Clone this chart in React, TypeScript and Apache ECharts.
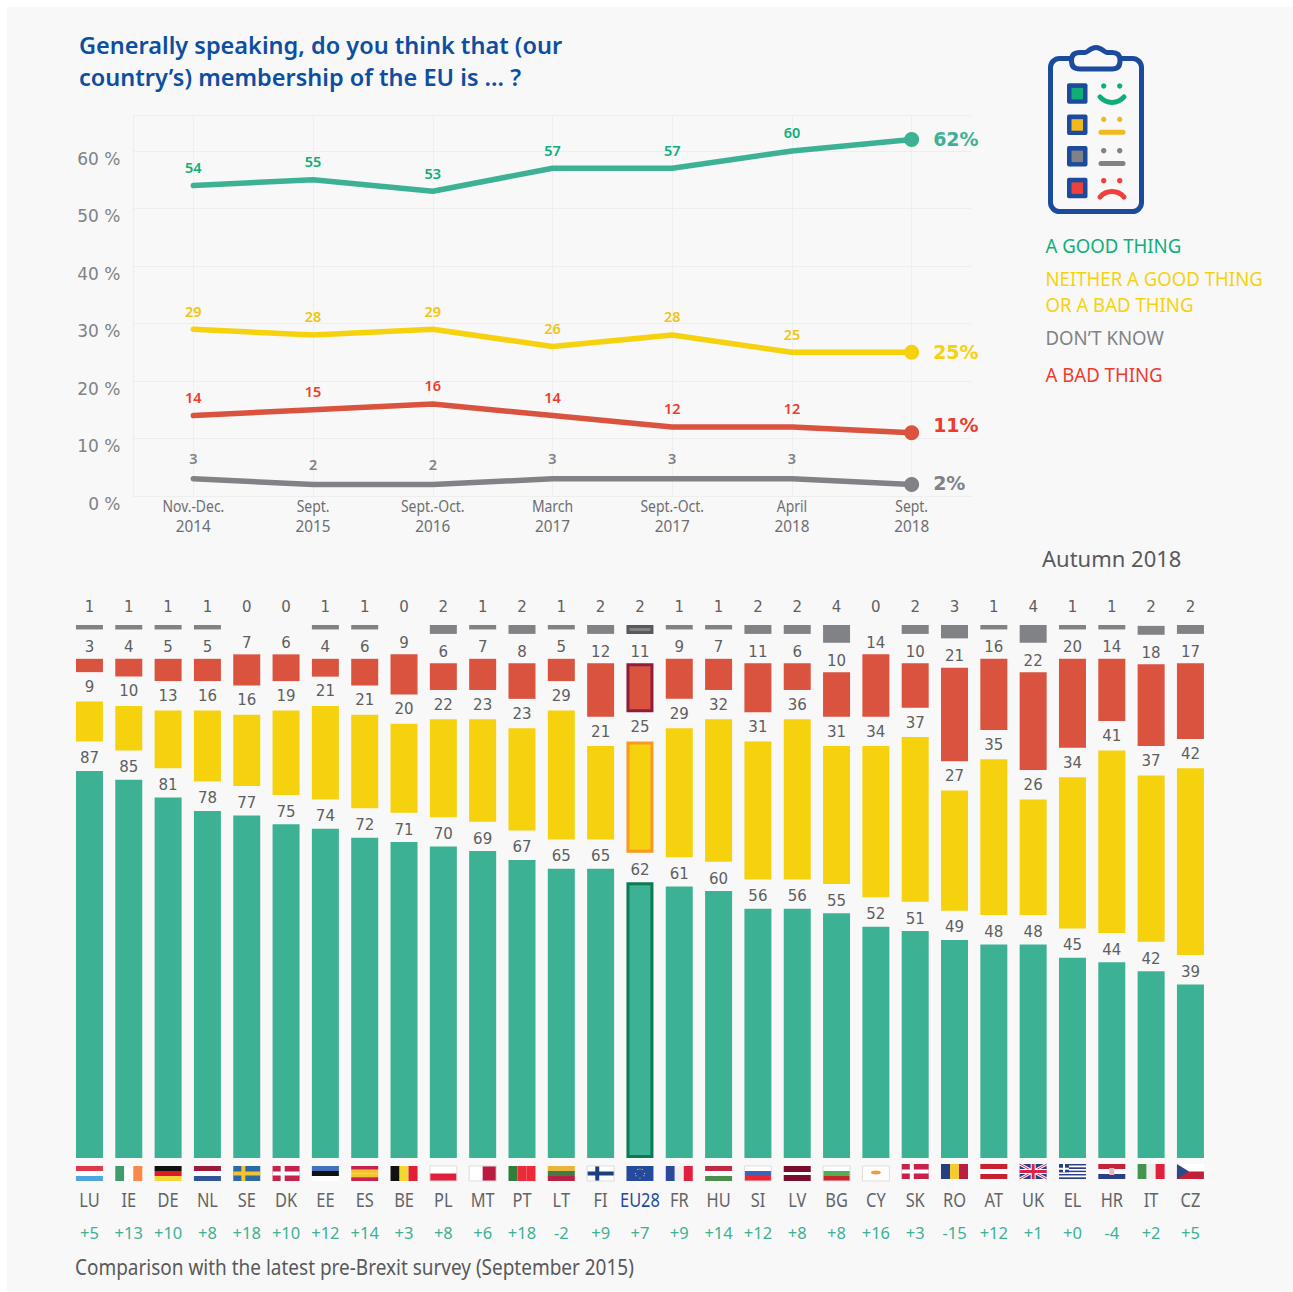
import React, { useEffect, useRef } from "react";
import * as echarts from "echarts";

const periods = ["Nov.-Dec.\n2014", "Sept.\n2015", "Sept.-Oct.\n2016", "March\n2017", "Sept.-Oct.\n2017", "April\n2018", "Sept.\n2018"];
const trendGood = [54, 55, 53, 57, 57, 60, 62];
const trendNeither = [29, 28, 29, 26, 28, 25, 25];
const trendBad = [14, 15, 16, 14, 12, 12, 11];
const trendDontKnow = [3, 2, 2, 3, 3, 3, 2];

const countries = ["LU", "IE", "DE", "NL", "SE", "DK", "EE", "ES", "BE", "PL", "MT", "PT", "LT", "FI", "EU28", "FR", "HU", "SI", "LV", "BG", "CY", "SK", "RO", "AT", "UK", "EL", "HR", "IT", "CZ"];
const good = [87, 85, 81, 78, 77, 75, 74, 72, 71, 70, 69, 67, 65, 65, 62, 61, 60, 56, 56, 55, 52, 51, 49, 48, 48, 45, 44, 42, 39];
const neither = [9, 10, 13, 16, 16, 19, 21, 21, 20, 22, 23, 23, 29, 21, 25, 29, 32, 31, 36, 31, 34, 37, 27, 35, 26, 34, 41, 37.4, 42];
const bad = [3, 4, 5, 5, 7, 6, 4, 6, 9, 6, 7, 8, 5, 12, 11, 9, 7, 11, 6, 10, 14, 10, 21, 16, 22, 20, 14, 18.4, 17];
const dontKnow = [1, 1, 1, 1, 0, 0, 1, 1, 0, 2, 1, 2, 1, 2, 2, 1, 1, 2, 2, 4, 0, 2, 3, 1, 4, 1, 1, 2, 2];
const changes = ["+5", "+13", "+10", "+8", "+18", "+10", "+12", "+14", "+3", "+8", "+6", "+18", "-2", "+9", "+7", "+9", "+14", "+12", "+8", "+8", "+16", "+3", "-15", "+12", "+1", "+0", "-4", "+2", "+5"];

const FLAGS: Record<string, [string, string[]]> = {
  LU: ["h", ["#e0394a", "#ffffff", "#4ea6dc"]],
  IE: ["v", ["#3f9c6b", "#ffffff", "#f98849"]],
  DE: ["h", ["#111111", "#e01a25", "#f4d73a"]],
  NL: ["h", ["#9a1b3a", "#ffffff", "#2f559a"]],
  SE: ["cross", ["#2b6aa5", "#f4c332"]],
  DK: ["cross", ["#c7234a", "#ffffff"]],
  EE: ["h", ["#4471bb", "#111111", "#ffffff"]],
  ES: ["h", ["#c7234a", "#f4c332", "#f4c332", "#c7234a"]],
  BE: ["v", ["#111111", "#f4d730", "#e02036"]],
  PL: ["h", ["#ffffff", "#e01f3d"]],
  MT: ["v", ["#ffffff", "#bb1b3e"]],
  PT: ["v", ["#2f7f3b", "#ef2a38", "#ef2a38"]],
  LT: ["h", ["#e7b53c", "#427a49", "#b92144"]],
  FI: ["cross", ["#ffffff", "#1d3f80"]],
  EU28: ["eu", ["#234a9c", "#d9b93a"]],
  FR: ["v", ["#2b4a9e", "#f0f0f0", "#e0213f"]],
  HU: ["h", ["#c22942", "#ffffff", "#4a8f4c"]],
  SI: ["h", ["#ffffff", "#3f62b4", "#ee2436"]],
  LV: ["h", ["#7a0c2e", "#7a0c2e", "#ffffff", "#7a0c2e", "#7a0c2e"]],
  BG: ["h", ["#ffffff", "#4faf52", "#c9252f"]],
  CY: ["cy", ["#ffffff", "#ee9a45"]],
  SK: ["cross", ["#c7234a", "#ffffff"]],
  RO: ["v", ["#24407f", "#f2cb35", "#bb1e3e"]],
  AT: ["h", ["#c9202f", "#ffffff", "#c9202f"]],
  UK: ["uk", ["#2a3f87", "#ffffff", "#d8234a"]],
  EL: ["el", ["#2a3f87", "#ffffff"]],
  HR: ["h", ["#c7203a", "#ffffff", "#2a3f87"]],
  IT: ["v", ["#41954f", "#efefef", "#e0203f"]],
  CZ: ["cz", ["#ffffff", "#c32038", "#2c4a85"]],
};

const GREEN = "#3db194";
const YELLOW = "#f6d20e";
const RED = "#d9533f";
const GREY = "#808285";
const NAVY = "#1a4b9c";
const TEXT = "#58595b";
const PANEL = "#f8f8f8";
const GAP = 6.6;
const LIFTED = ["SK", "RO", "AT", "UK", "EL", "HR", "IT", "CZ"];

const clipPath =
  "M1080 52.5H1085C1088 52.5 1090 47.5 1096 47.5C1102 47.5 1104 52.5 1107 52.5H1112Q1120 52.5 1120 60V61Q1120 69 1112 69H1080Q1071.5 69 1071.5 61V60Q1071.5 52.5 1080 52.5Z";
echarts.graphic.registerShape("boardClip", echarts.graphic.extendPath(clipPath as any, {} as any));

function flagChildren(code: string, x: number, y: number, w: number, h: number) {
  const [kind, cols] = FLAGS[code];
  const kids: any[] = [];
  const rect = (rx: number, ry: number, rw: number, rh: number, fill: string) =>
    kids.push({ type: "rect", shape: { x: rx, y: ry, width: rw, height: rh }, style: { fill } });
  const poly = (points: number[][], fill: string) => kids.push({ type: "polygon", shape: { points }, style: { fill } });
  const line = (x1: number, y1: number, x2: number, y2: number, stroke: string, lineWidth: number) =>
    kids.push({ type: "line", shape: { x1, y1, x2, y2 }, style: { stroke, lineWidth } });
  if (kind === "h") {
    cols.forEach((c, i) => rect(x, y + (i * h) / cols.length, w, h / cols.length, c));
  } else if (kind === "v") {
    cols.forEach((c, i) => rect(x + (i * w) / cols.length, y, w / cols.length, h, c));
  } else if (kind === "cross") {
    rect(x, y, w, h, cols[0]);
    rect(x + w * 0.3, y, 4, h, cols[1]);
    rect(x, y + h / 2 - 2, w, 4, cols[1]);
  } else if (kind === "eu") {
    rect(x, y, w, h, cols[0]);
    for (let a = 0; a < 12; a++) {
      const t = (a / 12) * Math.PI * 2;
      kids.push({ type: "circle", shape: { cx: x + w / 2 + 4.6 * Math.cos(t), cy: y + h / 2 + 4.6 * Math.sin(t), r: 0.6 }, style: { fill: cols[1] } });
    }
  } else if (kind === "cy") {
    rect(x, y, w, h, cols[0]);
    kids.push({ type: "ellipse", shape: { cx: x + w / 2, cy: y + h / 2 - 1, rx: 5, ry: 2 }, style: { fill: cols[1] } });
  } else if (kind === "uk") {
    rect(x, y, w, h, cols[0]);
    line(x, y, x + w, y + h, cols[1], 3);
    line(x + w, y, x, y + h, cols[1], 3);
    line(x, y, x + w, y + h, cols[2], 1);
    line(x + w, y, x, y + h, cols[2], 1);
    rect(x + w / 2 - 2.5, y, 5, h, cols[1]);
    rect(x, y + h / 2 - 2.5, w, 5, cols[1]);
    rect(x + w / 2 - 1.5, y, 3, h, cols[2]);
    rect(x, y + h / 2 - 1.5, w, 3, cols[2]);
  } else if (kind === "el") {
    for (let i = 0; i < 9; i++) rect(x, y + (i * h) / 9, w, h / 9, i % 2 ? cols[1] : cols[0]);
    rect(x, y, w * 0.37, (h * 5) / 9, cols[0]);
    rect(x + w * 0.15, y, 2, (h * 5) / 9, cols[1]);
    rect(x, y + h / 4, w * 0.37, 2, cols[1]);
  } else if (kind === "cz") {
    rect(x, y, w, h / 2, cols[0]);
    rect(x, y + h / 2, w, h / 2, cols[1]);
    poly([[x, y], [x + w * 0.45, y + h / 2], [x, y + h]], cols[2]);
  }
  if (["PL", "MT", "SI", "BG", "CY", "FI"].includes(code)) {
    kids.push({ type: "rect", shape: { x, y, width: w, height: h }, style: { fill: "none", stroke: "#dddddd", lineWidth: 1 } });
  }
  if (code === "HR") rect(x + w / 2 - 2.5, y + 4, 5, 7, "#e8b8b8");
  return kids;
}

const squeezedText = (text: string, x: number, y: number, font: string, fill: string, scaleX: number) => ({
  type: "text",
  x,
  y,
  scaleX,
  silent: true,
  style: { text, font, fill, align: "center", verticalAlign: "middle" },
});

const barLabel = (distance: number) => ({
  show: true,
  position: "top" as const,
  distance,
  color: "#5e5f61",
  fontFamily: "DejaVu Sans",
  fontSize: 15,
  formatter: (p: any) => String(Math.round(p.value)),
});

const barSeries = (name: string, values: number[], color: string, euBorder: string, distance: number, extra: any = {}) => ({
  name,
  type: "bar",
  xAxisIndex: 1,
  yAxisIndex: 1,
  stack: "all",
  barWidth: 27,
  itemStyle: { color },
  label: barLabel(distance),
  data: values.map((v, i) => ({
    value: v,
    itemStyle: countries[i] === "EU28" ? { color, borderColor: euBorder, borderWidth: 3 } : { color },
  })),
  ...extra,
});

const spacer = (key: string) => ({
  name: key,
  type: "bar",
  xAxisIndex: 1,
  yAxisIndex: 1,
  stack: "all",
  barWidth: 27,
  silent: true,
  itemStyle: { color: "transparent" },
  data: countries.map(() => GAP),
});

const lineSeries = (name: string, values: number[], color: string, labelColor: string, endColor: string, distance: number, endOffset: number[] = [0, 0]) => ({
  name,
  type: "line",
  xAxisIndex: 0,
  yAxisIndex: 0,
  symbol: "circle",
  symbolSize: (_: any, p: any) => (p.dataIndex === values.length - 1 ? 15 : 0),
  showSymbol: true,
  showAllSymbol: true,
  lineStyle: { color, width: 5.5, cap: "round", join: "round" },
  itemStyle: { color },
  label: {
    show: true,
    position: "top",
    distance,
    color: labelColor,
    fontFamily: "Noto Sans",
    fontWeight: 600,
    fontSize: 14.5,
  },
  data: values.map((v, i) =>
    i === values.length - 1
      ? {
          value: v,
          label: {
            position: "right",
            distance: 14,
            offset: endOffset,
            formatter: "{c}%",
            color: endColor,
            fontFamily: "DejaVu Sans",
            fontWeight: "bold",
            fontSize: 19,
          },
        }
      : v
  ),
});

const faceDots = (y: number, fill: string) => [
  { type: "circle", shape: { cx: 1103.7, cy: y, r: 2.7 }, style: { fill } },
  { type: "circle", shape: { cx: 1119.7, cy: y, r: 2.7 }, style: { fill } },
];
const square = (y: number, fill: string) => [
  { type: "rect", shape: { x: 1067, y, width: 20.5, height: 20.5, r: 2 }, style: { fill: NAVY } },
  { type: "rect", shape: { x: 1071.5, y: y + 4.6, width: 11.5, height: 11.5 }, style: { fill } },
];
const ARC_HALF = (49.4 * Math.PI) / 180;

function buildOption(): any {
  const legendText = (y: number, text: string, fill: string) => ({
    type: "text",
    x: 1045.5,
    y,
    scaleX: 0.93,
    style: { text, fill, font: '20px "Noto Sans"', textVerticalAlign: "middle", lineHeight: 26 },
  });
  return {
    animation: false,
    backgroundColor: "#ffffff",
    title: {
      left: 79,
      top: 29,
      padding: 0,
      text: "Generally speaking, do you think that (our\ncountry’s) membership of the EU is ... ?",
      textStyle: { color: "#0d4ea1", fontFamily: "Noto Sans", fontWeight: 600, fontSize: 23.5, lineHeight: 32 },
    },
    grid: [
      { left: 133.5, width: 838, top: 115, height: 381, containLabel: false },
      { left: 69.8, width: 1140.3, top: 625, height: 533, containLabel: false },
    ],
    xAxis: [
      {
        type: "category",
        gridIndex: 0,
        data: periods,
        axisLine: { show: true, lineStyle: { color: "#eeeeee", width: 1 } },
        axisTick: { show: true, alignWithLabel: true, inside: true, length: 381, lineStyle: { color: "#eeeeee", width: 1 } },
        axisLabel: { show: false },
        splitLine: { show: false },
      },
      {
        type: "category",
        gridIndex: 1,
        data: countries,
        axisLine: { show: false },
        axisTick: { show: false },
        axisLabel: {
          interval: 0,
          margin: 66,
          hideOverlap: false,
          color: GREEN,
          fontFamily: "Noto Sans",
          fontSize: 16.5,
          formatter: (_: string, i: number) => changes[i],
        },
      },
    ],
    yAxis: [
      {
        type: "value",
        gridIndex: 0,
        min: 0,
        max: 66.26,
        interval: 10,
        axisLine: { show: true, lineStyle: { color: "#eeeeee", width: 1 } },
        axisTick: { show: false },
        axisLabel: {
          margin: 13,
          color: GREY,
          fontFamily: "DejaVu Sans",
          fontSize: 17,
          verticalAlign: "top",
          lineHeight: 16,
          formatter: (v: number) => (v % 10 === 0 ? `${v} %` : ""),
          showMaxLabel: false,
        },
        splitLine: { show: true, lineStyle: { color: "#eeeeee", width: 1 } },
      },
      {
        type: "value",
        gridIndex: 1,
        min: 0,
        max: 119.8,
        show: false,
        splitLine: { show: false },
      },
    ],
    series: [
      lineSeries("Don't know", trendDontKnow, GREY, GREY, GREY, 13, [0, -1]),
      lineSeries("A bad thing", trendBad, RED, "#ee3b2e", "#ee3b2e", 11, [0, -8]),
      lineSeries("Neither", trendNeither, YELLOW, "#f2c40e", YELLOW, 11),
      lineSeries("A good thing", trendGood, GREEN, "#0fae78", GREEN, 11),
      barSeries("A good thing ", good, GREEN, "#0b7a55", 5),
      spacer("gap1"),
      barSeries("Neither ", neither, YELLOW, "#f79a1e", 7),
      spacer("gap2"),
      barSeries("A bad thing ", bad, RED, "#8e1c3a", 4),
      spacer("gap3"),
      barSeries("Don't know ", dontKnow, GREY, "#58595b", 11, { barMinHeight: 1 }),
      {
        name: "period labels",
        type: "custom",
        xAxisIndex: 0,
        yAxisIndex: 0,
        silent: true,
        clip: false,
        data: periods.map((_, i) => [i, 0]),
        encode: { x: 0, y: 1 },
        renderItem: (params: any, api: any) => {
          const c = api.coord([api.value(0), 0]);
          const lines = periods[params.dataIndex].split("\n");
          return {
            type: "group",
            children: [
              squeezedText(lines[0], c[0], c[1] + 9, '17px "Noto Sans"', "#6d6e71", 0.82),
              squeezedText(lines[1], c[0], c[1] + 30, '17px "Noto Sans"', "#6d6e71", 0.9),
            ],
          };
        },
      },
      {
        name: "flags",
        type: "custom",
        xAxisIndex: 1,
        yAxisIndex: 1,
        silent: true,
        clip: false,
        data: countries.map((_, i) => [i, 0]),
        encode: { x: 0, y: 1 },
        renderItem: (params: any, api: any) => {
          const c = api.coord([api.value(0), 0]);
          const code = countries[params.dataIndex];
          const w = 27;
          const h = 15;
          const lift = LIFTED.includes(code) ? 2 : 0;
          return {
            type: "group",
            children: [
              ...flagChildren(code, c[0] - w / 2, c[1] + 8 - lift, w, h),
              squeezedText(code, c[0], c[1] + 41, '20px "Noto Sans"', code === "EU28" ? "#1f4a9f" : "#636466", 0.82),
            ],
          };
        },
      },
    ],
    graphic: [
      { type: "rect", z: -10, silent: true, shape: { x: 7, y: 7, width: 1286, height: 1285 }, style: { fill: PANEL } },
      legendText(245, "A GOOD THING", "#0fae78"),
      legendText(291, "NEITHER A GOOD THING\nOR A BAD THING", YELLOW),
      legendText(337, "DON’T KNOW", GREY),
      legendText(374, "A BAD THING", "#ee3b2e"),
      {
        type: "text",
        x: 1042,
        y: 558,
        style: { text: "Autumn 2018", fill: TEXT, font: '22px "Noto Sans"', textVerticalAlign: "middle" },
      },
      {
        type: "text",
        x: 75,
        y: 1266,
        scaleX: 0.863,
        style: { text: "Comparison with the latest pre-Brexit survey (September 2015)", fill: TEXT, font: '22px "Noto Sans"', textVerticalAlign: "middle" },
      },
      {
        type: "rect",
        shape: { x: 1050.5, y: 58.5, width: 91, height: 153, r: 9 },
        style: { fill: "none", stroke: NAVY, lineWidth: 5 },
      },
      { type: "boardClip", style: { fill: PANEL, stroke: NAVY, lineWidth: 5 } },
      ...square(83.3, "#0fae78"),
      ...square(114.6, "#f2b91c"),
      ...square(146, "#808285"),
      ...square(177.8, "#f0403a"),
      ...faceDots(86, "#0fae78"),
      ...faceDots(119.3, "#f2b91c"),
      ...faceDots(150.7, "#808285"),
      ...faceDots(180.7, "#f0403a"),
      {
        type: "arc",
        shape: { cx: 1112, cy: 86.7, r: 15.8, startAngle: Math.PI / 2 - ARC_HALF, endAngle: Math.PI / 2 + ARC_HALF, clockwise: true },
        style: { fill: "none", stroke: "#0fae78", lineWidth: 5, lineCap: "round" },
      },
      { type: "rect", shape: { x: 1098.5, y: 129.7, width: 27, height: 5, r: 2.5 }, style: { fill: "#f2b91c" } },
      { type: "rect", shape: { x: 1098.5, y: 161, width: 27, height: 5, r: 2.5 }, style: { fill: "#808285" } },
      {
        type: "arc",
        shape: { cx: 1112, cy: 207.3, r: 15.8, startAngle: -Math.PI / 2 - ARC_HALF, endAngle: -Math.PI / 2 + ARC_HALF, clockwise: true },
        style: { fill: "none", stroke: "#f0403a", lineWidth: 5, lineCap: "round" },
      },
    ],
  };
}

export default function App() {
  const ref = useRef<HTMLDivElement>(null);
  useEffect(() => {
    document.body.style.margin = "0";
    const chart = echarts.init(ref.current!, undefined, { renderer: "svg" });
    chart.setOption(buildOption());
    return () => chart.dispose();
  }, []);
  return <div ref={ref} style={{ width: 1293, height: 1292 }} />;
}
